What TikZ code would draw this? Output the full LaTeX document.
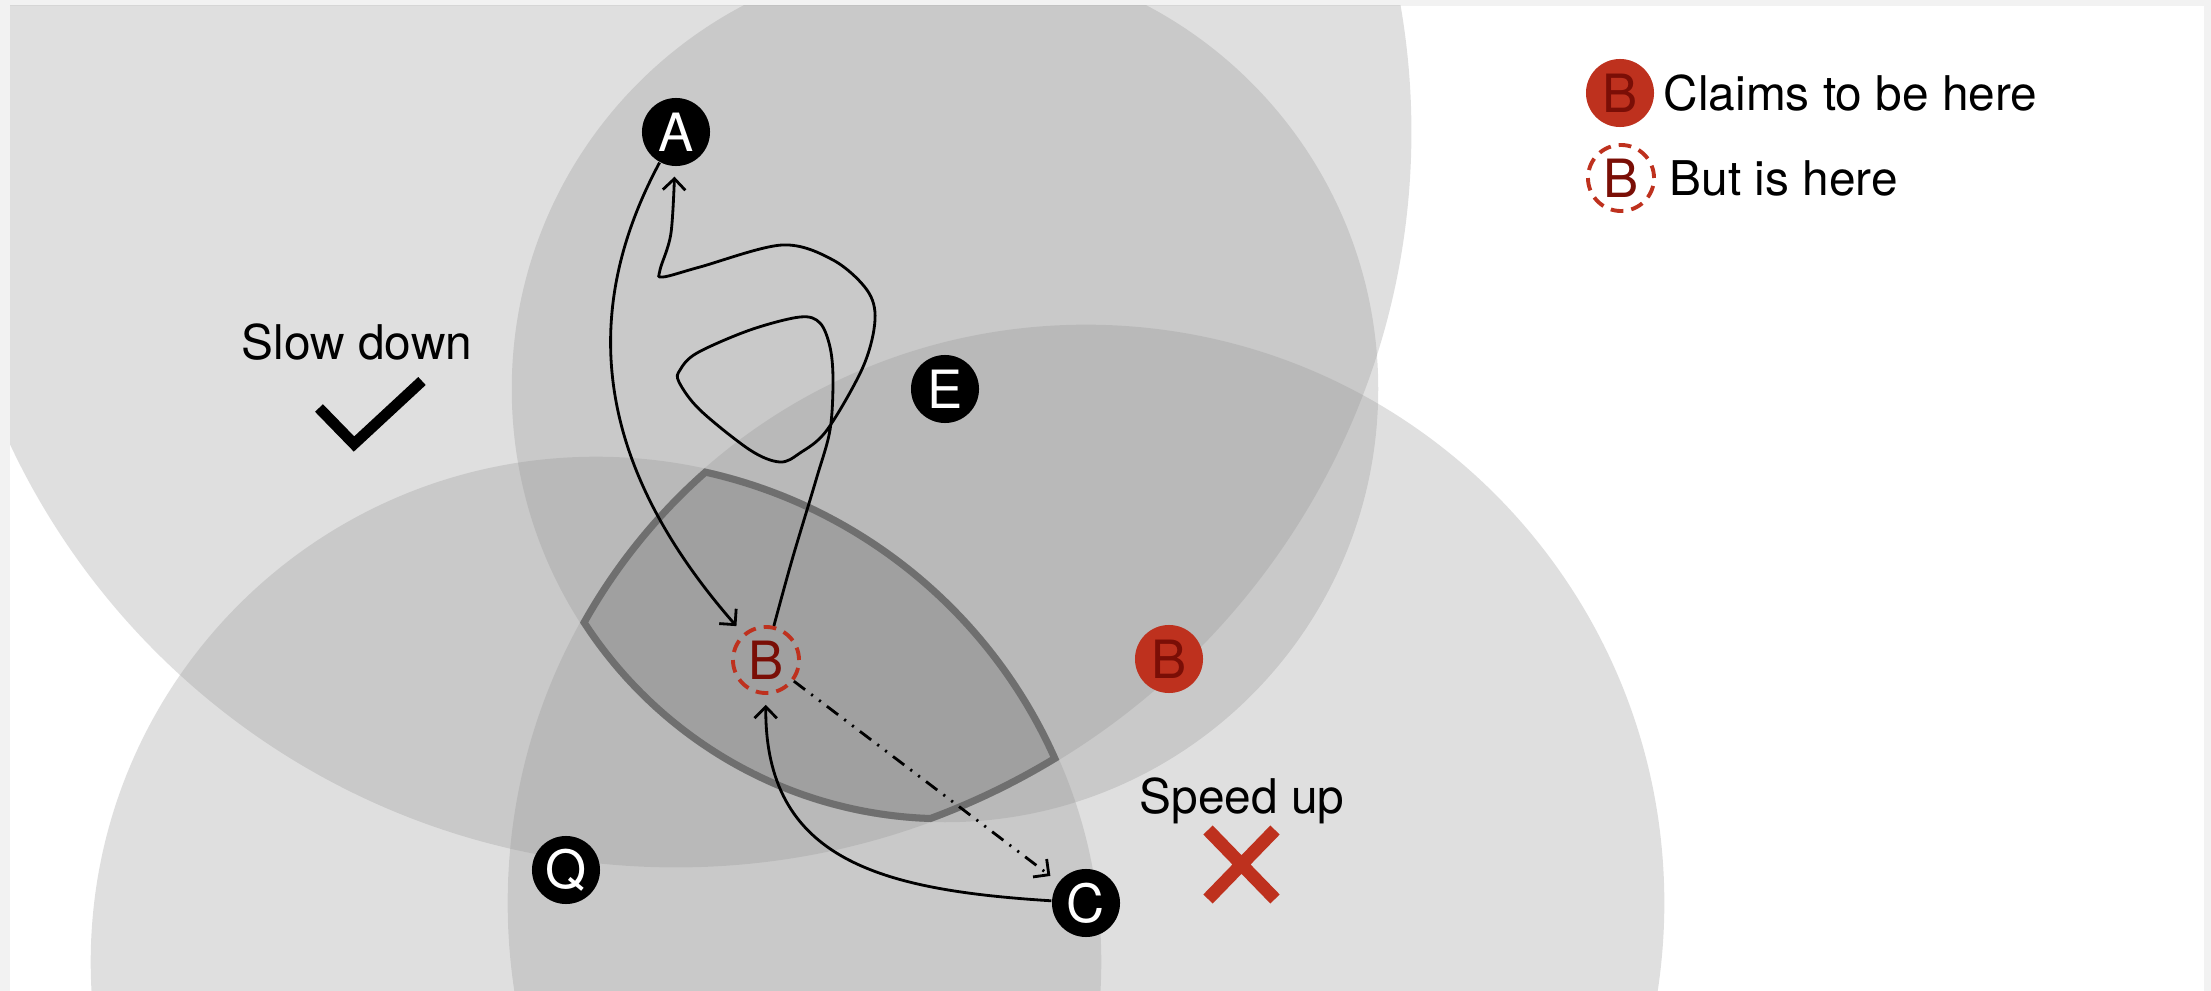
\documentclass[tikz,border=0pt]{standalone}
\usepackage{fontspec}
\setmainfont{TeX Gyre Heros}
\usepackage{tikz}
\usetikzlibrary{arrows.meta}
\definecolor{pagegray}{HTML}{F2F2F2}
\definecolor{rangegray}{HTML}{949494}
\definecolor{lensgray}{HTML}{A0A0A0}
\definecolor{lensline}{HTML}{6F6F6F}
\definecolor{claimred}{HTML}{BE311E}
\definecolor{letterred}{HTML}{7A0E06}
\newcommand{\lblfont}{\fontsize{13.6}{16}\selectfont}
\newcommand{\nodefont}{\fontsize{15}{18}\selectfont}

\begin{document}
\begin{tikzpicture}[
    x=0.01cm, y=-0.01cm,
    every node/.style={font=\lblfont, inner sep=0pt},
    rangedisk/.style={fill=rangegray, fill opacity=0.29},
    verifier/.style={circle, fill=black, text=white, minimum size=0.68cm, font=\nodefont},
    claimed/.style={circle, fill=claimred, text=letterred, minimum size=0.68cm, font=\nodefont},
    actual/.style={circle, draw=claimred, line width=1.1pt, dash pattern=on 3.6pt off 2.3pt, text=letterred, minimum size=0.66cm, font=\nodefont},
    msg/.style={line width=0.8pt, -{Straight Barb[length=3.2pt,width=6.4pt]}, shorten >=0.1cm}
]
    \useasboundingbox (0,0) rectangle (2211,991);
    \fill[pagegray] (0,0) rectangle (2211,991);
    \fill[white] (10,6) rectangle (2204,991);

    % Positions
    \coordinate (pA) at (676,132);
    \coordinate (pE) at (945,389);
    \coordinate (pC) at (1086,903);
    \coordinate (pD) at (596,962);

    % Ranges
    \begin{scope}
        \clip (10,6) rectangle (2204,991);
        \fill[rangedisk] (pA) circle (7.35cm);
        \fill[rangedisk] (pE) circle (4.33cm);
        \fill[rangedisk] (pC) circle (5.78cm);
        \fill[rangedisk] (pD) circle (5.05cm);
    \end{scope}

    % Where the ranges meet
    \begin{scope}
        \clip (pA) circle (7.35cm);
        \clip (pE) circle (4.33cm);
        \clip (pC) circle (5.78cm);
        \clip (pD) circle (5.05cm);
        \fill[lensgray] (0,0) rectangle (2211,991);
        \draw[lensline, line width=4pt] (pA) circle (7.35cm) (pE) circle (4.33cm) (pC) circle (5.78cm) (pD) circle (5.05cm);
    \end{scope}

    % Nodes
    \node[verifier] (A) at (pA) {A};
    \node[verifier] (E) at (pE) {E};
    \node[verifier] (C) at (pC) {C};
    \node[verifier] (Q) at (566,870) {Q};
    \node[actual] (Bh) at (766,660) {B};
    \node[claimed] (Bc) at (1169,659) {B};

    % Messages
    \draw[msg] (A) .. controls (575,320) and (600,470) .. (Bh);
    \draw[msg] plot[smooth, tension=0.55] coordinates {(Bh.77) (792,560) (816,480) (830,430) (833,380) (830,347) (820,323) (800,317) (750,330) (697,353) (680,370) (679,382) (700,410) (750,450) (780,462) (800,453) (827,430) (863,367) (875,320) (867,290) (833,260) (782,245) (700,267) (663,277) (660,270) (671,233) (A.268)};
    \draw[msg, dash pattern=on 4pt off 2.2pt on 0.6pt off 2.2pt on 0.6pt off 2.2pt] (Bh) -- (C);
    \draw[msg] (C) .. controls (880,890) and (765,860) .. (Bh);

    % Verdicts
    \node[anchor=base] (slow) at (357,360) {Slow down};
    \draw[line width=3.1pt] (319,408) -- (354,444) -- (422,381);
    \node[anchor=base] (speed) at (1242,813) {Speed up};
    \draw[claimred, line width=3.7pt] (1208,830) -- (1275,899) (1275,830) -- (1208,899);

    % Legend
    \node[claimed] (legclaim) at (1620,93) {B};
    \node[anchor=base west] (legclaimtxt) at (1663,111) {Claims to be here};
    \node[actual] (legactual) at (1621,178) {B};
    \node[anchor=base west] (legactualtxt) at (1669,196) {But is here};
\end{tikzpicture}
\end{document}
